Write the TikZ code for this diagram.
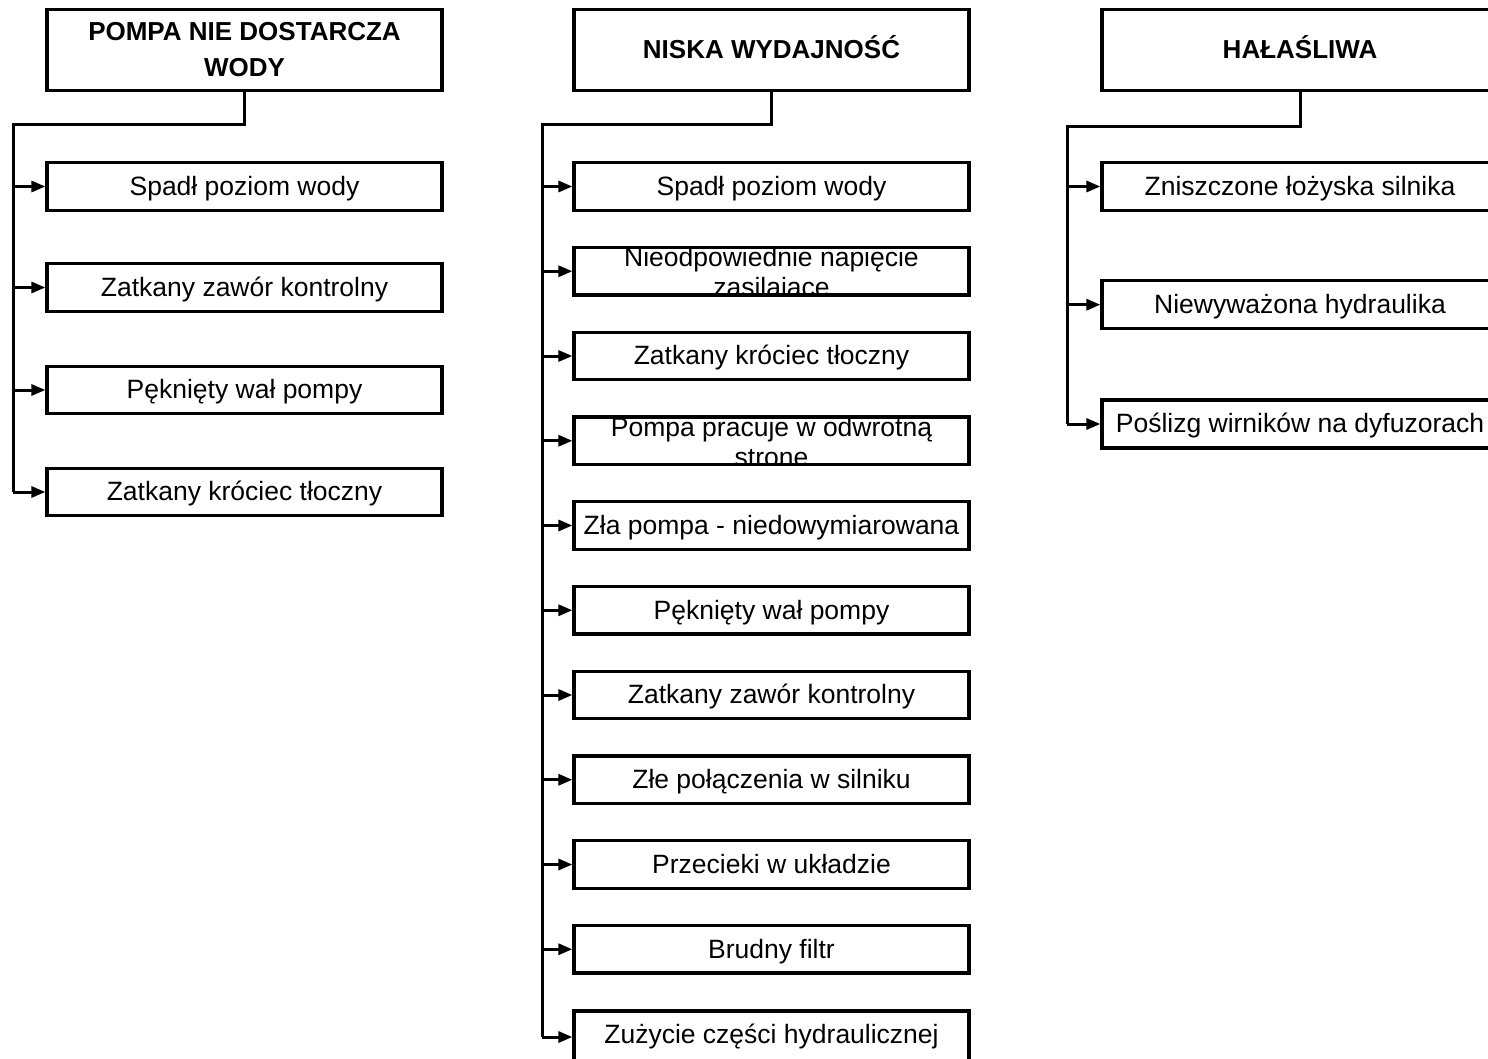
\documentclass[tikz,border=0pt]{standalone}
\usepackage{fontspec}
\setmainfont{Liberation Sans}
\usetikzlibrary{arrows.meta}
\tikzset{
  head/.style={draw, line width=3.2pt, minimum height=81pt, inner sep=0pt,
    font=\bfseries\fontsize{26}{36}\selectfont, align=center},
  head1/.style={head, text height=17pt, text depth=0pt},
  cause/.style={draw, line width=3.2pt, minimum height=47.5pt, inner sep=0pt,
    font=\fontsize{26.5}{30}\selectfont, text height=17.5pt, text depth=0pt},
  wA/.style={minimum width=395pt},
  wB/.style={minimum width=395pt},
  wC/.style={minimum width=396pt},
  tree/.style={line width=3pt},
  arr/.style={line width=3pt, -{Triangle[length=14pt,width=11pt]}},
  cliptext/.style 2 args={path picture={
    \node[anchor=base, yshift=4.5pt, font=\fontsize{26.5}{30}\selectfont] at (path picture bounding box.center) {#1};
    \node[anchor=base, yshift=-25.5pt, font=\fontsize{26.5}{30}\selectfont] at (path picture bounding box.center) {#2};
  }}
}
\begin{document}
\begin{tikzpicture}[x=1pt,y=-1pt]
\useasboundingbox (0,0) rectangle (1488,1059);
\clip (0,0) rectangle (1488,1059);
\fill[white] (0,0) rectangle (1488,1059);

% ---------- column 1 ----------
\node[head,wA] (h1) at (244.5,50) {POMPA NIE DOSTARCZA\\WODY};
\node[cause,wA] (a1) at (244.5,186.5) {Spadł poziom wody};
\node[cause,wA] (a2) at (244.5,287.5) {Zatkany zawór kontrolny};
\node[cause,wA] (a3) at (244.5,390) {Pęknięty wał pompy};
\node[cause,wA] (a4) at (244.5,492) {Zatkany króciec tłoczny};
\coordinate (j1) at (13,125);
\draw[tree] (h1.south) |- (j1) -- (j1 |- a4.west);
\foreach \n in {a1,a2,a3,a4} \draw[arr] (j1 |- \n.west) -- (\n.west);

% ---------- column 2 ----------
\node[head1,wB] (h2) at (771.5,50) {NISKA WYDAJNOŚĆ};
\node[cause,wB] (b1) at (771.5,186.5) {Spadł poziom wody};
\node[cause,wB,cliptext={Nieodpowiednie napięcie}{zasilajace}] (b2) at (771.5,271.25) {};
\node[cause,wB] (b3) at (771.5,356) {Zatkany króciec tłoczny};
\node[cause,wB,cliptext={Pompa pracuje w odwrotną}{strone}] (b4) at (771.5,440.75) {};
\node[cause,wB] (b5) at (771.5,525.5) {Zła pompa - niedowymiarowana};
\node[cause,wB] (b6) at (771.5,610.25) {Pęknięty wał pompy};
\node[cause,wB] (b7) at (771.5,695) {Zatkany zawór kontrolny};
\node[cause,wB] (b8) at (771.5,779.75) {Złe połączenia w silniku};
\node[cause,wB] (b9) at (771.5,864.5) {Przecieki w układzie};
\node[cause,wB] (b10) at (771.5,949.25) {Brudny filtr};
\node[cause,wB,minimum height=52pt,text height=12pt] (b11) at (771.5,1037) {Zużycie części hydraulicznej};
\coordinate (j2) at (542,125);
\draw[tree] (h2.south) |- (j2) -- (j2 |- b11.west);
\foreach \n in {b1,b2,b3,b4,b5,b6,b7,b8,b9,b10,b11} \draw[arr] (j2 |- \n.west) -- (\n.west);

% ---------- column 3 ----------
\node[head1,wC] (h3) at (1300,50) {HAŁAŚLIWA};
\node[cause,wC,minimum height=48pt] (c1) at (1300,186.5) {Zniszczone łożyska silnika};
\node[cause,wC,minimum height=48pt] (c2) at (1300,304.7) {Niewyważona hydraulika};
\node[cause,wC,minimum height=48pt] (c3) at (1300,424) {Poślizg wirników na dyfuzorach};
\coordinate (j3) at (1067,127);
\draw[tree] (h3.south) |- (j3) -- (j3 |- c3.west);
\foreach \n in {c1,c2,c3} \draw[arr] (j3 |- \n.west) -- (\n.west);
\end{tikzpicture}
\end{document}
